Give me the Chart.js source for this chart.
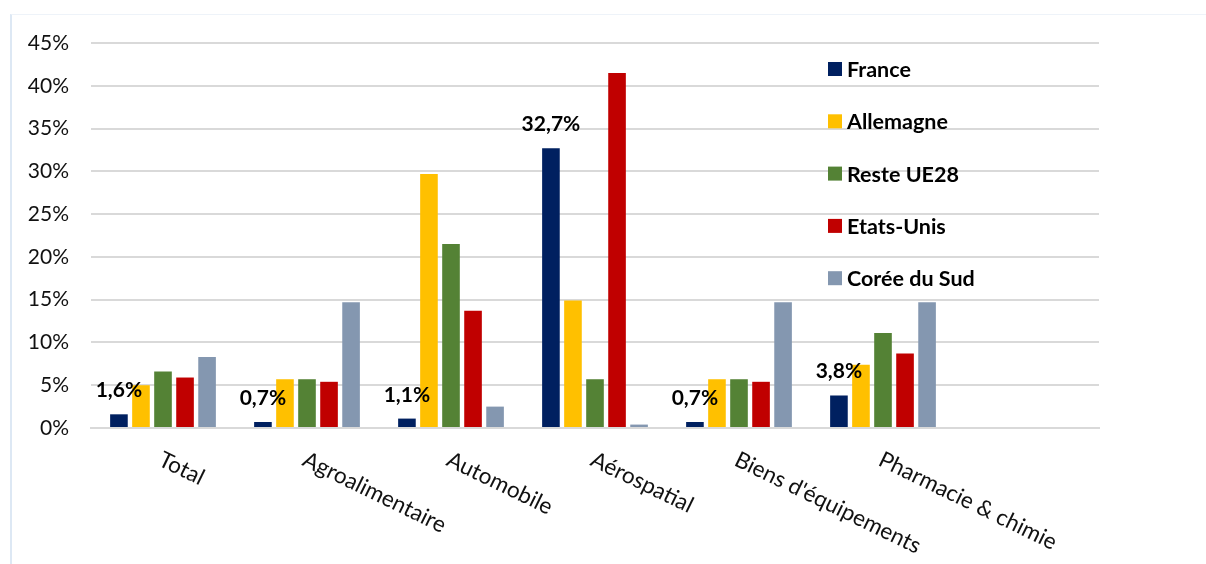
<!DOCTYPE html>
<html>
<head>
<meta charset="utf-8">
<script src="https://cdn.jsdelivr.net/npm/chart.js@4/dist/chart.umd.min.js"></script>
<style>
  html, body { margin: 0; padding: 0; background: #fff; }
  #wrap { position: relative; width: 1206px; height: 564px; }
  #frame { position: absolute; left: 10px; top: 14px; right: 0; bottom: -2px; border-left: 2px solid #dde8f4; border-top: 1px solid #eef3f9; }
  canvas { position: absolute; left: 0; top: 0; }
</style>
</head>
<body>
<div id="wrap">
  <div id="frame"></div>
  <canvas id="chart" width="1206" height="564"></canvas>
</div>
<script>
const categories = ['Total', 'Agroalimentaire', 'Automobile', 'Aérospatial', "Biens d'équipements", 'Pharmacie & chimie', ''];
const seriesNames = ['France', 'Allemagne', 'Reste UE28', 'Etats-Unis', 'Corée du Sud'];
const seriesColors = ['#002060', '#FFC000', '#548235', '#C00000', '#8497B0'];

const france = [1.6, 0.7, 1.1, 32.7, 0.7, 3.8];
const allemagne = [5.0, 5.7, 29.7, 14.9, 5.7, 7.4];
const resteUE28 = [6.6, 5.7, 21.5, 5.7, 5.7, 11.1];
const etatsUnis = [5.9, 5.4, 13.7, 41.5, 5.4, 8.7];
const coreeDuSud = [8.3, 14.7, 2.5, 0.4, 14.7, 14.7];

const yTicks = [0, 5, 10, 15, 20, 25, 30, 35, 40, 45];

const FONT = 'Lato, "Open Sans", sans-serif';

// etiquettes France au-dessus des barres, axe X penche, legende dans le graphe
const extras = {
    id: 'extras',
    afterDraw(chart) {
        const ctx = chart.ctx;
        const xScale = chart.scales.x;
        const area = chart.chartArea;

        ctx.save();
        ctx.fillStyle = '#000';
        ctx.font = 'bold 21px ' + FONT;
        ctx.textAlign = 'center';
        ctx.textBaseline = 'alphabetic';
        chart.getDatasetMeta(0).data.forEach((bar, i) => {
            const txt = france[i].toFixed(1).replace('.', ',') + '%';
            ctx.fillText(txt, bar.x, bar.y - 17);
        });

        ctx.font = '22.5px ' + FONT;
        ctx.fillStyle = '#111';
        ctx.textAlign = 'left';
        ctx.textBaseline = 'top';
        categories.forEach((cat, i) => {
            if (!cat) return;
            const x = xScale.getPixelForValue(i);
            ctx.save();
            ctx.translate(x + 2, area.bottom + 20);
            ctx.rotate(26 * Math.PI / 180);
            ctx.fillText(cat, 0, 0);
            ctx.restore();
        });

        ctx.font = 'bold 21.5px ' + FONT;
        ctx.textBaseline = 'middle';
        seriesNames.forEach((name, i) => {
            const y = 69 + i * 52.3;
            ctx.fillStyle = seriesColors[i];
            ctx.fillRect(828, y - 7, 14, 14);
            ctx.fillStyle = '#000';
            ctx.fillText(name, 847, y + 1);
        });
        ctx.restore();
    }
};

const seriesData = [france, allemagne, resteUE28, etatsUnis, coreeDuSud];

new Chart(document.getElementById('chart'), {
    type: 'bar',
    data: {
        labels: categories,
        datasets: seriesNames.map((name, i) => ({
            label: name,
            data: seriesData[i],
            backgroundColor: seriesColors[i],
            borderWidth: 0,
            categoryPercentage: 0.765,
            barPercentage: 0.8
        }))
    },
    options: {
        responsive: false,
        animation: false,
        layout: { padding: { top: 43, right: 107, left: 0, bottom: 0 } },
        plugins: {
            legend: { display: false },
            tooltip: { enabled: false }
        },
        scales: {
            x: {
                grid: { display: false },
                border: { display: true, color: '#d9d9d9', width: 2 },
                ticks: { display: false },
                afterFit: (scale) => { scale.height = 136; }
            },
            y: {
                min: 0,
                max: 45,
                afterBuildTicks: (scale) => { scale.ticks = yTicks.map(v => ({ value: v })); },
                ticks: {
                    padding: 22,
                    color: '#111',
                    font: { family: FONT, size: 21 },
                    callback: (v) => v + '%'
                },
                grid: { color: '#d9d9d9', lineWidth: 2, drawTicks: false },
                border: { display: false },
                afterFit: (scale) => { scale.width = 91; }
            }
        }
    },
    plugins: [extras]
});
</script>
</body>
</html>
